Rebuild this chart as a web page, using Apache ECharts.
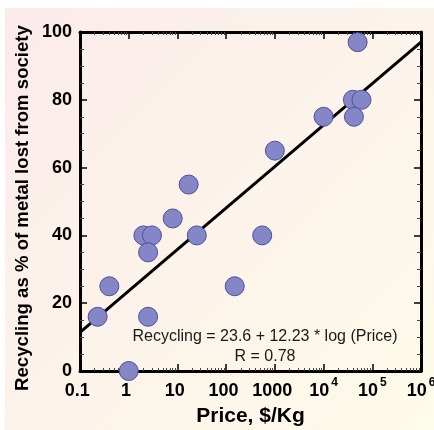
<!DOCTYPE html>
<html>
<head>
<meta charset="utf-8">
<script src="https://cdn.jsdelivr.net/npm/echarts@6/dist/echarts.min.js"></script>
<style>
html,body{margin:0;padding:0;background:#ffffff;}
#chart{width:434px;height:430px;}
</style>
</head>
<body>
<div id="chart"></div>
<script>
// Data
const prices    = [0.23, 0.4, 1, 2.5, 2, 3, 2.5, 8, 17, 25, 150, 550, 1000, 10000, 40000, 60000, 42000, 50000];
const recycling = [16,   25,  0, 16,  40, 40, 35, 45, 55, 40, 25,  40,  65,   75,    80,    80,    75,    97];
const fitPrices = [0.1, 1e6];
const fitValues = [11.4, 97.0];
const xTickLabels = ['0.1', '1', '10', '100', '1000', '10^4', '10^5', '10^6'];
const yTicks = [0, 20, 40, 60, 80, 100];
const xTitle = 'Price, $/Kg';
const yTitle = 'Recycling as % of metal lost from society';
const noteLine1 = 'Recycling = 23.6 + 12.23 * log (Price)';
const noteLine2 = 'R = 0.78';

const points = prices.map((p, i) => [p, recycling[i]]);
const fitLine = fitPrices.map((p, i) => [p, fitValues[i]]);

const chart = echarts.init(document.getElementById('chart'), null, {renderer: 'canvas'});
const FONT = 'Liberation Sans, Arial, sans-serif';

function xLabel(v) {
  const idx = Math.round(Math.log10(v)) + 1;
  const s = xTickLabels[idx];
  if (s === undefined) return '';
  if (s.indexOf('^') >= 0) {
    const parts = s.split('^');
    return '{b|' + parts[0] + '}{s|' + parts[1] + '}';
  }
  return '{b|' + s + '}{s| }';
}

const axisLineStyle = {color: '#000', width: 3};

chart.setOption({
  animation: false,
  backgroundColor: 'transparent',
  graphic: [{
    type: 'rect', z: -10, silent: true,
    shape: {x: 5, y: 8, width: 429, height: 422},
    style: {
      fill: new echarts.graphic.LinearGradient(0, 0, 1, 1, [
        {offset: 0, color: '#fbebeb'},
        {offset: 1, color: '#fdfbe9'}
      ])
    }
  }, {
    type: 'text', z: 10,
    style: {
      text: noteLine1 + '\n' + noteLine2,
      x: 265, y: 327, align: 'center',
      font: '16px ' + FONT, fill: '#1a1a1a', lineHeight: 20
    }
  }, {
    type: 'text', z: 10,
    x: 23, y: 208, rotation: Math.PI / 2,
    style: {
      text: yTitle, x: 0, y: 0, align: 'center', verticalAlign: 'middle',
      font: 'bold 18.6px ' + FONT, fill: '#000'
    }
  }],
  grid: {left: 80, right: 13, top: 32, bottom: 59, containLabel: false, outerBoundsMode: 'none'},
  xAxis: [{
    type: 'log', logBase: 10, min: 0.1, max: 1e6, position: 'bottom',
    name: xTitle, nameLocation: 'middle', nameGap: 35,
    nameTextStyle: {fontFamily: FONT, fontWeight: 'bold', fontSize: 21, color: '#000'},
    axisLine: {show: true, onZero: false, lineStyle: axisLineStyle},
    axisTick: {show: true, inside: true, length: 7, lineStyle: {color: '#000', width: 1.5}},
    minorTick: {show: true, splitNumber: 9, length: 3, lineStyle: {color: '#444', width: 1}},
    splitLine: {show: false},
    axisLabel: {
      margin: 6, formatter: xLabel,
      rich: {
        b: {fontFamily: FONT, fontWeight: 'bold', fontSize: 18, color: '#000', verticalAlign: 'bottom'},
        s: {fontFamily: FONT, fontWeight: 'bold', fontSize: 12, color: '#000', verticalAlign: 'top', padding: [0, 0, 11, 2]}
      }
    }
  }, {
    type: 'log', logBase: 10, min: 0.1, max: 1e6, position: 'top',
    axisLine: {show: true, onZero: false, lineStyle: axisLineStyle},
    axisTick: {show: true, inside: true, length: 7, lineStyle: {color: '#000', width: 1.5}},
    minorTick: {show: true, splitNumber: 9, length: 3, lineStyle: {color: '#444', width: 1}},
    splitLine: {show: false},
    axisLabel: {show: false}
  }],
  yAxis: [{
    type: 'value', min: 0, max: 100, interval: 20, position: 'left',
    axisLine: {show: true, onZero: false, lineStyle: axisLineStyle},
    axisTick: {show: true, inside: true, length: 7, lineStyle: {color: '#000', width: 1.5}},
    minorTick: {show: true, splitNumber: 4, length: 4, lineStyle: {color: '#444', width: 1}},
    splitLine: {show: false},
    axisLabel: {
      margin: 8, fontFamily: FONT, fontWeight: 'bold', fontSize: 18, color: '#000',
      formatter: v => (yTicks.indexOf(v) >= 0 ? String(v) : '')
    }
  }, {
    type: 'value', min: 0, max: 100, interval: 20, position: 'right',
    axisLine: {show: true, onZero: false, lineStyle: axisLineStyle},
    axisTick: {show: true, inside: true, length: 7, lineStyle: {color: '#000', width: 1.5}},
    minorTick: {show: true, splitNumber: 4, length: 4, lineStyle: {color: '#444', width: 1}},
    splitLine: {show: false},
    axisLabel: {show: false}
  }],
  series: [{
    type: 'line', xAxisIndex: 0, yAxisIndex: 0,
    data: fitLine, symbol: 'none', z: 3,
    lineStyle: {color: '#000', width: 3}
  }, {
    type: 'scatter', xAxisIndex: 0, yAxisIndex: 0,
    data: points, symbol: 'circle', symbolSize: 19, z: 4,
    itemStyle: {color: '#8486c8', borderColor: '#4e4f96', borderWidth: 1, opacity: 1}
  }]
});
</script>
</body>
</html>
